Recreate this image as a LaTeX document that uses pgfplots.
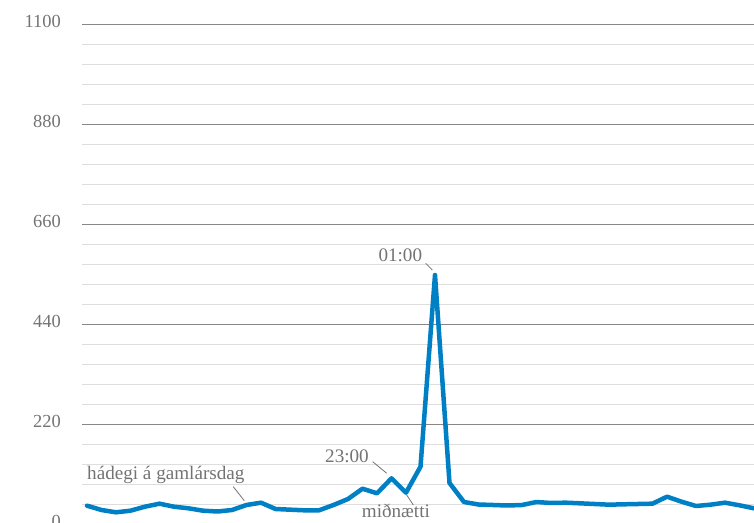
\documentclass[border=0pt]{standalone}
\usepackage{pgfplots}
\pgfplotsset{compat=1.18}
\usepackage{fontspec}
\setmainfont{Liberation Serif}
\definecolor{lineblue}{RGB}{0,128,196}
\definecolor{txtgray}{RGB}{115,115,115}
\definecolor{majgray}{RGB}{135,135,135}
\definecolor{mingray}{RGB}{222,222,222}
\begin{document}
\begin{tikzpicture}
\begin{axis}[
  at={(0,0)}, anchor=south west,
  scale only axis, width=672bp, height=500bp,
  xmin=-0.345, xmax=46, ymin=0, ymax=1100,
  axis line style={draw=none},
  xtick=\empty,
  ytick={0,220,440,660,880,1100},
  minor ytick={44,88,132,176,264,308,352,396,484,528,572,616,704,748,792,836,924,968,1012,1056},
  ymajorgrids, yminorgrids,
  major grid style={draw=majgray, line width=1.2bp},
  minor grid style={draw=mingray, line width=1.2bp},
  tick style={draw=none},
  /pgf/number format/assume math mode=true,
  /pgf/number format/1000 sep={},
  yticklabel style={font=\fontsize{18.5}{18.5}\selectfont, text=txtgray, inner sep=0pt, anchor=east, xshift=-21bp, yshift=3bp},
]
\addplot[lineblue, line width=4.5bp, line join=round, line cap=round] coordinates {
(0,41.4) (1,31.9) (2,26.8) (3,30.4) (4,39.2) (5,45.8) (6,39.2) (7,35.6) (8,30.4) (9,28.6)
(10,31.9) (11,42.9) (12,48.0) (13,34.1) (14,32.6) (15,31.2) (16,31.2) (17,42.9) (18,56.1) (19,78.8)
(20,68.6) (21,101.6) (22,70.0) (23,127.2) (24,548.9) (25,91.3) (26,49.5) (27,44.0) (28,42.9) (29,41.8)
(30,42.9) (31,49.5) (32,47.3) (33,48.0) (34,46.6) (35,45.1) (36,43.6) (37,44.4) (38,45.1) (39,45.8)
(40,61.2) (41,50.2) (42,40.7) (43,43.6) (44,48.0) (45,42.2) (46,35.6)
};
\end{axis}
\begin{scope}[every node/.style={inner sep=0pt, anchor=base west, text=txtgray, font=\fontsize{19.2}{19.2}\selectfont}]
\node at (5bp,44.5bp) {hádegi á gamlársdag};
\node at (243bp,62.2bp) {23:00};
\node at (279.7bp,7.2bp) {miðnætti};
\node at (296.3bp,262.8bp) {01:00};
\end{scope}
\draw[txtgray, line width=0.8bp] (151.3bp,37.8bp) -- (162.3bp,23.8bp);
\draw[txtgray, line width=0.8bp] (290.7bp,62.8bp) -- (304.7bp,51.2bp);
\draw[txtgray, line width=0.8bp] (324.7bp,29.5bp) -- (331.3bp,19.5bp);
\draw[txtgray, line width=0.8bp] (343.7bp,261.2bp) -- (350.3bp,254.5bp);
\pgfresetboundingbox
\path[use as bounding box] (-82bp,1.5bp) rectangle (672bp,524.5bp);
\end{tikzpicture}
\end{document}
